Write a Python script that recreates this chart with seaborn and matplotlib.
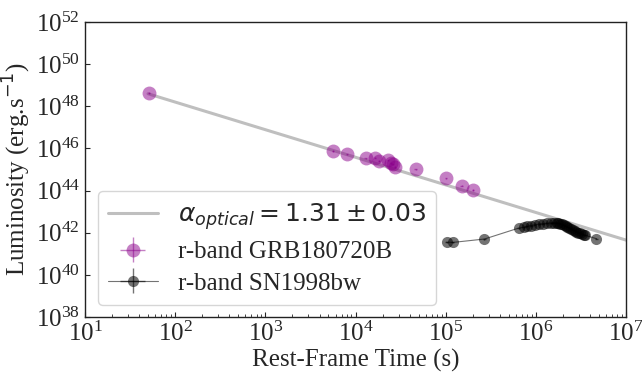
import numpy as np
import pandas as pd
import matplotlib
matplotlib.use("Agg")
import matplotlib.pyplot as plt
import matplotlib.ticker as mticker
import seaborn as sns

# ---- data ----
grb_log_t = [1.713, 3.753, 3.908, 4.112, 4.215, 4.263, 4.363, 4.392, 4.411, 4.437, 4.666, 5.002, 5.176, 5.305]
grb_log_L = [48.63, 45.89, 45.72, 45.53, 45.56, 45.40, 45.44, 45.29, 45.25, 45.13, 45.00, 44.58, 44.23, 44.03]

sn_log_t = [5.01, 5.08, 5.43, 5.81, 5.87, 5.90, 5.95, 5.99, 6.04, 6.08, 6.12, 6.17, 6.20, 6.23,
            6.25, 6.27, 6.29, 6.31, 6.33, 6.35, 6.37, 6.39, 6.41, 6.43, 6.45, 6.47, 6.49, 6.51,
            6.53, 6.55, 6.67]
sn_log_L = [41.55, 41.54, 41.70, 42.22, 42.26, 42.30, 42.34, 42.38, 42.41, 42.43, 42.45, 42.46,
            42.47, 42.46, 42.44, 42.42, 42.39, 42.36, 42.32, 42.28, 42.24, 42.19, 42.14, 42.10,
            42.05, 42.01, 41.98, 41.94, 41.91, 41.87, 41.72]

fit_alpha = 1.31
fit_alpha_err = 0.03
fit_log_norm = 50.82
fit_t_range = [50.0, 2.0e7]

x_ticks = [1e1, 1e2, 1e3, 1e4, 1e5, 1e6, 1e7]
y_ticks = [1e38, 1e40, 1e42, 1e44, 1e46, 1e48, 1e50, 1e52]

grb_label = "r-band GRB180720B"
sn_label = "r-band SN1998bw"
fit_label = r"$\alpha_{optical} = %.2f \pm %.2f$" % (fit_alpha, fit_alpha_err)

# ---- style ----
sns.set_style("ticks")
plt.rcParams["font.family"] = ["Liberation Serif", "DejaVu Serif"]
plt.rcParams["mathtext.fontset"] = "dejavusans"
plt.rcParams["font.size"] = 18

fig = plt.figure(figsize=(6.42, 3.74), dpi=100)
ax = fig.add_axes([0.1324, 0.1524, 0.8427, 0.7888])

grb_t = 10 ** np.array(grb_log_t)
grb_L = 10 ** np.array(grb_log_L)
sn_t = 10 ** np.array(sn_log_t)
sn_L = 10 ** np.array(sn_log_L)

fit_t = np.array(fit_t_range)
fit_df = pd.DataFrame({"t": fit_t, "L": 10 ** (fit_log_norm - fit_alpha * np.log10(fit_t))})
sns.lineplot(data=fit_df, x="t", y="L", ax=ax, color="gray", alpha=0.5, linewidth=2.2,
             label=fit_label, legend=False)

h_grb = ax.errorbar(grb_t, grb_L, xerr=grb_t * 0.03, yerr=grb_L * 0.08, fmt="o",
                    color="darkmagenta", markersize=10, alpha=0.5, elinewidth=1,
                    markeredgewidth=0, label=grb_label)
h_sn = ax.errorbar(sn_t, sn_L, xerr=sn_t * 0.04, yerr=sn_L * 0.06, fmt="o-",
                   color="black", markersize=8, alpha=0.55, elinewidth=1, linewidth=0.8,
                   markeredgewidth=0, label=sn_label)

ax.set_xscale("log")
ax.set_yscale("log")
ax.set_xlim(1e1, 1e7)
ax.set_ylim(1e38, 1e52)
ax.set_xticks(x_ticks)
ax.set_yticks(y_ticks)
ax.xaxis.set_minor_locator(mticker.LogLocator(base=10, subs=np.arange(2, 10), numticks=20))
ax.yaxis.set_minor_locator(mticker.NullLocator())
ax.tick_params(which="both", direction="in", top=False, right=False, labelsize=18)
ax.tick_params(which="major", length=3.5)
ax.tick_params(which="minor", length=2)

ax.set_xlabel("Rest-Frame Time (s)", fontsize=18, labelpad=2)
ax.set_ylabel(r"Luminosity (erg.s$^{-1}$)", fontsize=18, labelpad=2)

for s in ax.spines.values():
    s.set_color("#222222")
    s.set_linewidth(1.0)

handles = [ax.lines[0], h_grb, h_sn]
ax.legend(handles=handles, labels=[fit_label, grb_label, sn_label], loc="lower left",
          fontsize=18, frameon=True, handletextpad=0.8, labelspacing=0.35)

fig.savefig("out.png", dpi=100)
